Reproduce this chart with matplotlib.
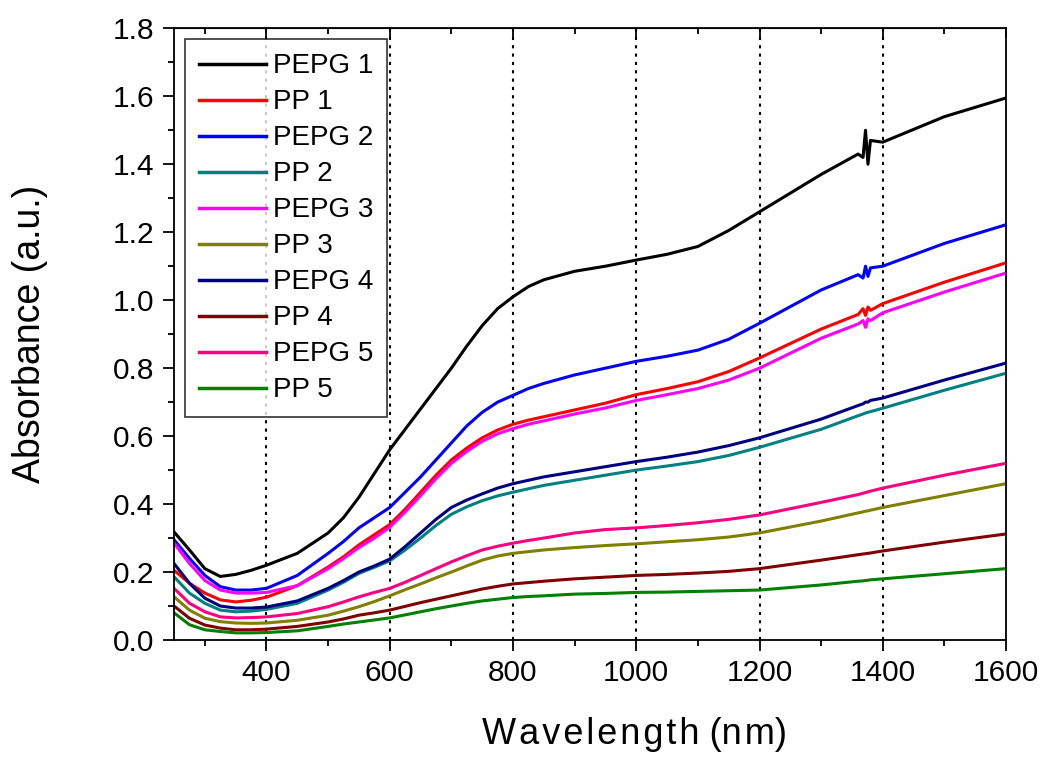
import numpy as np
import matplotlib
matplotlib.use("Agg")
import matplotlib.pyplot as plt
from matplotlib.ticker import MultipleLocator, FormatStrFormatter

plt.rcParams['font.family'] = ['Liberation Sans', 'DejaVu Sans']

# longitudes de onda (nm)
wl = [250, 275, 300, 325, 350, 375, 400, 450, 500, 525, 550, 575, 600, 625, 650, 675, 700, 725, 750, 775,
      800, 825, 850, 900, 950, 1000, 1050, 1100, 1150, 1200, 1300, 1360, 1368, 1372, 1376, 1380, 1400, 1500, 1600]

pepg1 = [.318, .265, .21, .187, .193, .205, .22, .255, .315, .36, .42, .49, .56, .62, .68, .74, .80, .865, .925, .975,
         1.01, 1.04, 1.06, 1.085, 1.10, 1.118, 1.135, 1.158, 1.205, 1.26, 1.37, 1.43, 1.42, 1.50, 1.40, 1.47, 1.465, 1.54, 1.595]
pp1 = [.205, .167, .138, .118, .112, .117, .126, .16, .215, .245, .28, .31, .34, .385, .435, .485, .53, .565, .595, .618,
       .635, .647, .657, .677, .697, .722, .74, .76, .79, .83, .915, .958, .975, .955, .98, .97, .99, 1.053, 1.11]
pepg2 = [.295, .24, .19, .157, .147, .147, .152, .19, .255, .29, .33, .36, .39, .435, .48, .53, .58, .63, .67, .70,
         .72, .74, .755, .78, .80, .82, .835, .853, .885, .932, 1.03, 1.075, 1.065, 1.10, 1.07, 1.095, 1.10, 1.167, 1.222]
pp2 = [.186, .138, .108, .088, .083, .085, .09, .108, .147, .17, .196, .214, .233, .265, .30, .337, .37, .392, .41, .424,
       .435, .445, .455, .47, .485, .50, .512, .525, .543, .567, .62, .66, .665, .668, .67, .672, .682, .735, .785]
pepg3 = [.285, .225, .175, .147, .138, .138, .14, .16, .21, .24, .272, .30, .332, .377, .425, .475, .52, .555, .585, .607,
         .622, .635, .645, .665, .683, .705, .722, .74, .765, .80, .888, .93, .94, .92, .945, .94, .963, 1.024, 1.08]
pp3 = [.127, .088, .064, .054, .05, .049, .05, .058, .073, .085, .098, .113, .13, .148, .165, .183, .20, .218, .235, .247,
       .255, .26, .265, .272, .278, .283, .289, .295, .303, .315, .35, .374, .377, .379, .38, .382, .39, .425, .46]
pepg4 = [.225, .167, .123, .10, .094, .094, .097, .115, .152, .175, .20, .218, .238, .275, .315, .355, .39, .412, .43, .447,
         .46, .47, .48, .495, .51, .525, .538, .553, .572, .595, .65, .69, .695, .70, .70, .705, .712, .765, .815]
pp4 = [.10, .064, .044, .035, .03, .03, .032, .04, .053, .062, .073, .08, .088, .099, .11, .12, .13, .14, .15, .158,
       .165, .169, .173, .18, .185, .19, .193, .197, .202, .21, .235, .251, .253, .254, .255, .256, .262, .288, .312]
pepg5 = [.152, .108, .083, .068, .065, .066, .068, .078, .098, .112, .127, .14, .152, .17, .19, .21, .23, .248, .265, .276,
         .285, .293, .30, .315, .325, .33, .337, .345, .355, .368, .405, .428, .432, .434, .436, .438, .447, .485, .52]
pp5 = [.08, .045, .03, .025, .021, .021, .022, .027, .04, .047, .053, .059, .065, .074, .083, .092, .10, .108, .115, .12,
       .125, .128, .13, .135, .137, .14, .141, .143, .145, .147, .162, .173, .174, .175, .176, .177, .18, .195, .21]

etiquetas = ["PEPG 1", "PP 1", "PEPG 2", "PP 2", "PEPG 3", "PP 3", "PEPG 4", "PP 4", "PEPG 5", "PP 5"]
series = [pepg1, pp1, pepg2, pp2, pepg3, pp3, pepg4, pp4, pepg5, pp5]
colores = ["#000000", "#ff0000", "#0000ff", "#008080", "#ff00ff",
           "#808000", "#000080", "#800000", "#ff0080", "#008000"]

fig = plt.figure(figsize=(10.51, 7.65), dpi=100)
ax = fig.add_axes([0.1656, 0.1634, 0.7916, 0.7996])

for y, lab, c in zip(series, etiquetas, colores):
    ax.plot(wl, y, color=c, lw=2.2, label=lab)

ax.set_xlim(250, 1600)
ax.set_ylim(0, 1.8)
ax.xaxis.set_major_locator(MultipleLocator(200))
ax.xaxis.set_minor_locator(MultipleLocator(100))
ax.yaxis.set_major_locator(MultipleLocator(0.2))
ax.yaxis.set_minor_locator(MultipleLocator(0.1))
ax.yaxis.set_major_formatter(FormatStrFormatter('%.1f'))

ax.tick_params(which='major', direction='out', length=8, width=1.3, labelsize=21.5, pad=6)
ax.tick_params(which='minor', direction='out', length=4, width=1.3)

# ticks arriba hacia dentro
top = ax.secondary_xaxis('top')
top.xaxis.set_major_locator(MultipleLocator(200))
top.xaxis.set_minor_locator(MultipleLocator(100))
top.tick_params(which='major', direction='in', length=7, width=1.3, labeltop=False)
top.tick_params(which='minor', direction='in', length=4, width=1.3)

for s in ax.spines.values():
    s.set_linewidth(1.3)

# rejilla punteada solo vertical
for xg in [400, 600, 800, 1000, 1200, 1400]:
    ax.axvline(xg, color='black', ls=(0, (1.5, 2.5)), lw=1.5, zorder=0)

ax.set_xlabel("W\u200aa\u200av\u200ae\u200al\u200ae\u200an\u200ag\u200at\u200ah (n\u200am)", fontsize=26)
ax.xaxis.set_label_coords(0.553, -0.126)
ax.set_ylabel("Absorbance (a.u.)", fontsize=27)
ax.yaxis.set_label_coords(-0.151, 0.5)

leg = ax.legend(loc='upper left', fontsize=20, frameon=True, fancybox=False,
                edgecolor='black', handlelength=2.4, handletextpad=0.25,
                borderaxespad=0.4, labelspacing=0.36, borderpad=0.5)
leg.get_frame().set_linewidth(1.2)
for l in leg.get_lines():
    l.set_linewidth(2.5)

fig.savefig("out.png", dpi=100)
